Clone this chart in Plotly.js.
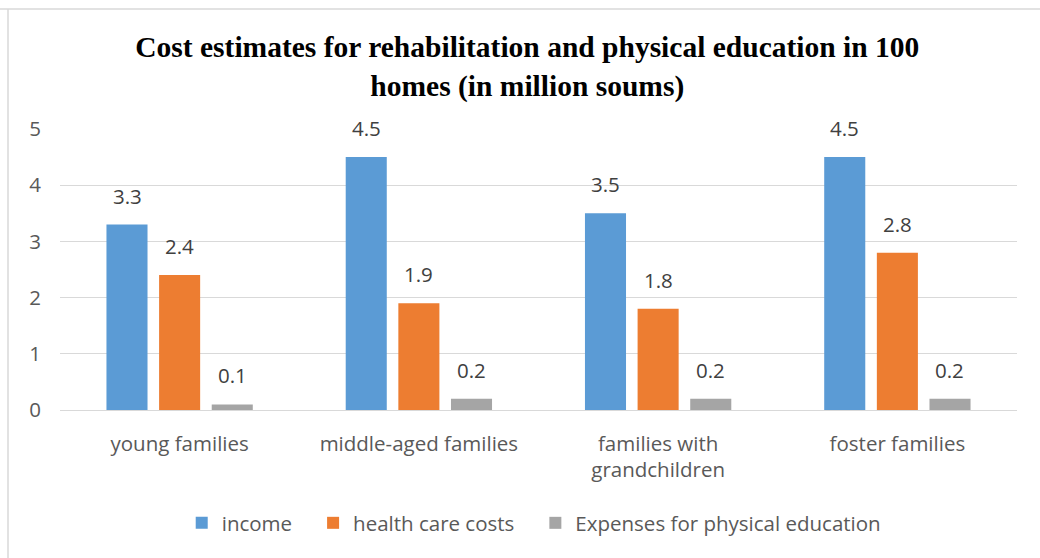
<!DOCTYPE html>
<html><head><meta charset="utf-8">
<script src="https://cdn.plot.ly/plotly-3.0.1.min.js"></script>
<style>html,body{margin:0;padding:0;background:#fff}#c{width:1040px;height:558px}</style>
</head><body><div id="c"></div>
<script>
const categories = ["young families", "middle-aged families", "families with<br>grandchildren", "foster families"];
const income = [3.3, 4.5, 3.5, 4.5];
const healthCare = [2.4, 1.9, 1.8, 2.8];
const physEd = [0.1, 0.2, 0.2, 0.2];
const seriesNames = ["income", "health care costs", "Expenses for physical education"];
const colors = ["#5b9bd5", "#ed7d31", "#a5a5a5"];
const tickVals = [0, 1, 2, 3, 4, 5];

const font = "Open Sans, Liberation Sans, sans-serif";
const allSeries = [income, healthCare, physEd];
const pad = "\u00a0\u00a0\u00a0";
const traces = allSeries.map((v, i) => ({
  type: "bar", x: categories, y: v, name: seriesNames[i] + (i < 2 ? pad : ""),
  marker: {color: colors[i]},
  hoverinfo: "skip"
}));

// data labels as annotations positioned via axis scales (offset per group)
const annotations = [];
allSeries.forEach((v, i) => {
  v.forEach((d, j) => {
    annotations.push({
      x: j, y: d, xref: "x", yref: "y",
      xshift: (i - 1) * 52.5,
      text: d.toFixed(1), showarrow: false,
      yanchor: "bottom", yshift: 13,
      font: {family: font, size: 20.5, color: "#404040"}
    });
  });
});

const layout = {
  width: 1040, height: 558,
  margin: {l: 60, r: 23, t: 129, b: 148},
  paper_bgcolor: "#fff", plot_bgcolor: "#fff",
  title: {text: "<b>Cost estimates for rehabilitation and physical education in 100<br>homes (in million soums)</b>",
    font: {family: "Liberation Serif, Times New Roman, serif", size: 29.5, color: "#000"},
    x: 0.507, xanchor: "center", y: 0.897, yanchor: "top"},
  barmode: "group", bargap: 0.34, bargroupgap: 0.22,
  xaxis: {tickfont: {family: font, size: 20.5, color: "#595959"}, showline: true, linecolor: "#d9d9d9", linewidth: 1,
    ticks: "", ticklabelstandoff: 15, fixedrange: true},
  yaxis: {range: [0, 5], tickvals: tickVals, showgrid: true, gridcolor: "#d9d9d9", gridwidth: 1, zeroline: false,
    tickfont: {family: font, size: 20.5, color: "#595959"}, ticks: "", ticklabelstandoff: 18, fixedrange: true},
  annotations: annotations,
  showlegend: true,
  legend: {orientation: "h", x: 0.495, xanchor: "center", y: -113/281, yanchor: "middle",
    font: {family: font, size: 20.5, color: "#595959"}, itemwidth: 20, traceorder: "normal"},
  shapes: [
    {type: "line", xref: "paper", yref: "paper", x0: -60/957, x1: 1.03, y0: 1 + 120/281, y1: 1 + 120/281, line: {color: "#d9d9d9", width: 1.5}},
    {type: "line", xref: "paper", yref: "paper", x0: -52/957, x1: -52/957, y0: 1 + 120/281, y1: -148/281, line: {color: "#d9d9d9", width: 1.5}}
  ]
};
Plotly.newPlot("c", traces, layout, {displayModeBar: false, staticPlot: true});
</script></body></html>
